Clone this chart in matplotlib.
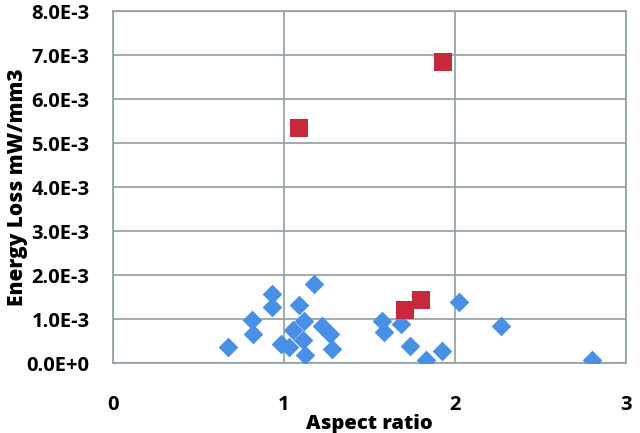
import numpy as np
import matplotlib
matplotlib.use("Agg")
import matplotlib.pyplot as plt
from matplotlib.ticker import FuncFormatter

# blue diamonds: aspect ratio vs energy loss (mW/mm3)
blue_x = [0.675, 0.81, 0.816, 0.93, 0.93, 0.98, 1.03, 1.05, 1.087, 1.118,
          1.11, 1.12, 1.177, 1.222, 1.27, 1.28, 1.573, 1.587, 1.686, 1.739,
          1.833, 1.924, 2.026, 2.27, 2.80]
blue_y = [0.36e-3, 0.98e-3, 0.67e-3, 1.57e-3, 1.29e-3, 0.45e-3, 0.38e-3, 0.76e-3,
          1.33e-3, 0.97e-3, 0.53e-3, 0.20e-3, 1.80e-3, 0.85e-3, 0.67e-3, 0.32e-3,
          0.96e-3, 0.72e-3, 0.89e-3, 0.39e-3, 0.075e-3, 0.29e-3, 1.39e-3,
          0.85e-3, 0.075e-3]
# red squares
red_x = [1.085, 1.932, 1.71, 1.80]
red_y = [5.35e-3, 6.85e-3, 1.21e-3, 1.45e-3]

plt.rcParams.update({"font.family": "Open Sans", "font.weight": "bold"})
GRID = "#8e9e9e"

fig = plt.figure(figsize=(6.4, 4.33), dpi=100)
ax = fig.add_axes([113 / 640, 1 - 363.3 / 433, 513 / 640, 352 / 433])
ax.scatter(blue_x, blue_y, marker="D", s=100, color="#4a8fe6", lw=0, zorder=3)
ax.scatter(red_x, red_y, marker="s", s=150, color="#c8283c", lw=0, zorder=3)

ax.set_xlim(0, 3); ax.set_ylim(0, 8e-3)
ax.set_xticks([0, 1, 2, 3]); ax.set_yticks(np.arange(0, 8.1e-3, 1e-3))
ax.yaxis.set_major_formatter(FuncFormatter(
    lambda v, p: "0.0E+0" if v == 0 else f"{v * 1e3:.1f}E-3"))
ax.grid(True, color=GRID, lw=1.2)
ax.set_axisbelow(True)
for sp in ax.spines.values():
    sp.set_color(GRID); sp.set_linewidth(1.2)
ax.tick_params(length=0, labelsize=14.5)
ax.tick_params(axis="y", pad=17)
ax.tick_params(axis="x", pad=23)
ax.set_xlabel("Aspect ratio", fontsize=14.5, fontweight="heavy", labelpad=-1)
ax.set_ylabel("Energy Loss mW/mm3", fontsize=15, fontweight="heavy", labelpad=-1)
fig.savefig("out.png")
